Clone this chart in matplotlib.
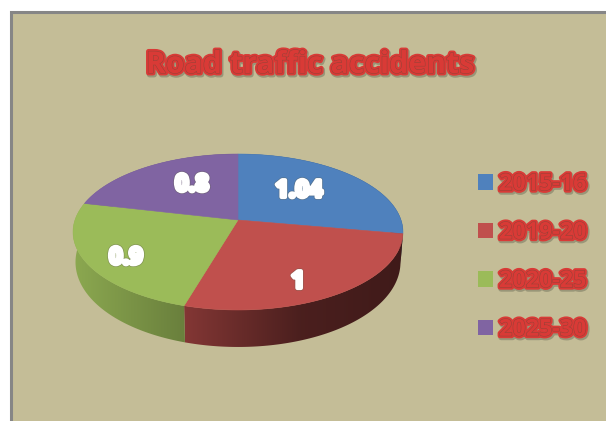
import matplotlib.pyplot as plt
import matplotlib.patheffects as pe
from matplotlib.patches import Patch, Polygon, Rectangle
import numpy as np

# data
periods = ['2015-16', '2019-20', '2020-25', '2025-30']
values = [1.04, 1, 0.9, 0.8]
value_labels = ['1.04', '1', '0.9', '0.8']
title = 'Road traffic accidents'

colors = ['#4F81BD', '#C0504D', '#9BBB59', '#8064A2']
bg = '#C4BD97'
text_red = '#D93A36'

# pie geometry in pixels, the disc is seen in perspective
cx, cy = 238, 220
rx = 163
persp_a, persp_c = -42.3, 0.1538
depth = 37
label_xy = [(299, 191), (298, 282), (126, 258), (192, 185)]


def project(angle, r=1.0):
    # angle in degrees clockwise from 12 o'clock
    t = np.radians(angle)
    u, v = r * np.sin(t), r * np.cos(t)
    d = 1 + persp_c * v
    return cx + rx * u / d, (cy + persp_a * v) / d


plt.rcParams['font.family'] = ['Open Sans', 'DejaVu Sans']

fig = plt.figure(figsize=(6.06, 4.21), dpi=100, facecolor='white')
ax = fig.add_axes([0, 0, 1, 1])

ax.add_patch(Rectangle((11, 12), 700, 500, facecolor=bg, edgecolor='#868686', linewidth=2.2))

angles = 360 * np.cumsum([0] + values) / sum(values)

# side wall, shaded from left to right
shade_x = np.arange(73, 404)
shade = np.interp(shade_x, [73, 185, 300, 403], [0.90, 0.68, 0.39, 0.33])
for i in range(len(values)):
    a = np.linspace(angles[i], angles[i + 1], 100)
    x, y = project(a)
    xb = cx + (x - cx) * 0.985
    # wall looks shorter towards the sides
    yb = y + depth * (0.78 - 0.22 * np.cos(np.radians(a)))
    pts = np.column_stack([np.r_[x, xb[::-1]], np.r_[y, yb[::-1]]])
    poly = Polygon(pts, closed=True, facecolor='none', edgecolor='none')
    ax.add_patch(poly)
    rgb = np.array(plt.matplotlib.colors.to_rgb(colors[i]))
    grad = (shade[:, None] * rgb)[None, :, :]
    im = ax.imshow(grad, extent=(73, 404, 400, 150), aspect='auto', zorder=2)
    im.set_clip_path(poly)

# top of the pie
for i in range(len(values)):
    a = np.linspace(angles[i], angles[i + 1], 100)
    x, y = project(a)
    pts = np.column_stack([np.r_[cx, x], np.r_[project(0, 0)[1], y]])
    ax.add_patch(Polygon(pts, closed=True, facecolor=colors[i], edgecolor=colors[i],
                         linewidth=0.4, zorder=3))

# value labels
for lab, (lx, ly) in zip(value_labels, label_xy):
    ax.text(lx, ly, lab, color='white', fontsize=17, fontweight='bold',
            ha='center', va='center', zorder=5,
            path_effects=[pe.withStroke(linewidth=4, foreground='#5a5a4a', alpha=0.4),
                          pe.withStroke(linewidth=3, foreground='white')])

red_effects = [pe.Stroke(linewidth=4, foreground='#77775f', alpha=0.55, offset=(0.8, -1.2)),
               pe.Stroke(linewidth=3.5, foreground=text_red),
               pe.Stroke(linewidth=0.8, foreground='#9a4238'),
               pe.Normal()]

ax.text(310, 65, title, color=text_red, fontsize=21.8, fontweight='bold',
        ha='center', va='center', path_effects=red_effects, zorder=5)

# legend
handles = [Patch(facecolor=c, edgecolor='none') for c in colors]
leg = ax.legend(handles, periods, loc='center left', bbox_to_anchor=(478 / 606, 1 - 257 / 421),
                frameon=False, fontsize=16.8, handlelength=0.643, handleheight=0.643,
                handletextpad=0.26, labelspacing=1.05, borderaxespad=0, borderpad=0)
for t in leg.get_texts():
    t.set_color(text_red)
    t.set_fontweight('bold')
    t.set_path_effects(red_effects)

ax.set_xlim(0, 606)
ax.set_ylim(421, 0)
ax.axis('off')

plt.savefig('out.png', dpi=100)
